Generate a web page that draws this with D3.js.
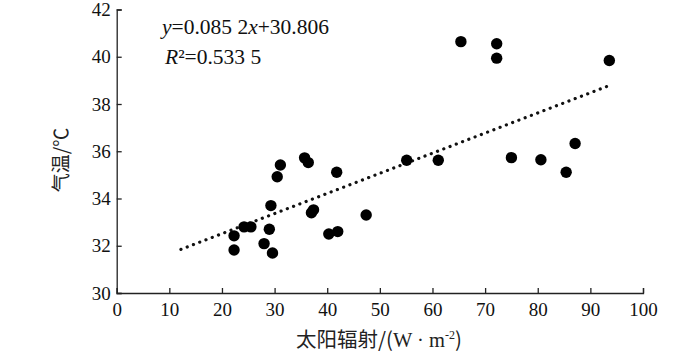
<!DOCTYPE html>
<html><head><meta charset="utf-8">
<script src="https://cdn.jsdelivr.net/npm/d3@7"></script>
<style>
html,body{margin:0;padding:0;background:#fff;}
svg{display:block;}
.serif{font-family:"Liberation Serif","Times New Roman",serif;}
.cjk{font-family:"Noto Sans CJK SC","Noto Sans",sans-serif;}
</style>
</head><body>
<svg id="c" width="700" height="357"></svg>
<script>
// Data
const radiation = [22.3,22.3,24.2,25.5,28.0,29.0,29.6,29.3,30.5,31.1,35.7,36.4,37.0,37.4,40.3,42.0,41.8,47.4,55.1,61.1,65.4,72.2,72.2,75.0,80.6,85.4,87.1,93.6];
const temperature = [32.42,31.82,32.8,32.8,32.09,32.7,31.69,33.7,34.92,35.42,35.72,35.52,33.4,33.52,32.5,32.6,35.11,33.3,35.62,35.62,40.64,40.55,39.94,35.73,35.64,35.11,36.33,39.84];
const xTicks = [0,10,20,30,40,50,60,70,80,90,100];
const yTicks = [30,32,34,36,38,40,42];
const slope = 0.0852, intercept = 30.806;
const trendX = [12.2, 93.6];

const svg = d3.select("#c");
const x = d3.scaleLinear().domain([0,100]).range([116.7,643]);
const y = d3.scaleLinear().domain([30,42]).range([293,9.5]);

const xAxis = svg.append("g").attr("transform",`translate(0,${y(30)})`)
  .call(d3.axisBottom(x).tickValues(xTicks).tickSizeInner(-5).tickSizeOuter(-5).tickPadding(10));
const yAxis = svg.append("g").attr("transform",`translate(${x(0)},0)`)
  .call(d3.axisLeft(y).tickValues(yTicks).tickSizeInner(-5).tickSizeOuter(-5).tickPadding(6));
[xAxis,yAxis].forEach(a=>{
  a.attr("font-family",null).attr("font-size",null);
  a.selectAll("path,line").attr("stroke","#222").attr("stroke-width",1.3);
  a.selectAll("text").attr("class","serif").style("font-size","19px").attr("fill","#111");
});

// trend line
svg.append("line")
  .attr("x1",x(trendX[0])).attr("y1",y(intercept+slope*trendX[0]))
  .attr("x2",x(trendX[1])).attr("y2",y(intercept+slope*trendX[1]))
  .attr("stroke","#111").attr("stroke-width",3.2)
  .attr("stroke-linecap","round").attr("stroke-dasharray","0.1 6.6");

// points
svg.append("g").selectAll("circle").data(radiation).join("circle")
  .attr("cx",(d)=>x(d)).attr("cy",(d,i)=>y(temperature[i])).attr("r",5.7).attr("fill","#000");

// equation
const eq = svg.append("text").attr("class","serif").attr("x",162).attr("y",34).style("font-size","21.5px").attr("fill","#111");
eq.append("tspan").attr("font-style","italic").text("y");
eq.append("tspan").text("=0.085 2");
eq.append("tspan").attr("font-style","italic").text("x");
eq.append("tspan").text("+30.806");
const r2 = svg.append("text").attr("class","serif").attr("x",165).attr("y",64).style("font-size","21.5px").attr("fill","#111");
r2.append("tspan").attr("font-style","italic").text("R");
r2.append("tspan").text("²=0.533 5");

// axis titles
svg.append("text").attr("class","cjk").attr("transform","translate(68,160) rotate(-90)").attr("text-anchor","middle")
  .style("font-size","19px").attr("fill","#222").text("气温/℃");
const xt = svg.append("text").attr("class","cjk").attr("x",379).attr("y",347).attr("text-anchor","middle")
  .style("font-size","20.5px").attr("fill","#222");
xt.append("tspan").text("太阳辐射/(");
xt.append("tspan").attr("class","serif").text("W · m");
xt.append("tspan").attr("class","serif").style("font-size","12px").attr("dy",-8).text("-2");
xt.append("tspan").attr("dy",8).text(")");
</script>
</body></html>
